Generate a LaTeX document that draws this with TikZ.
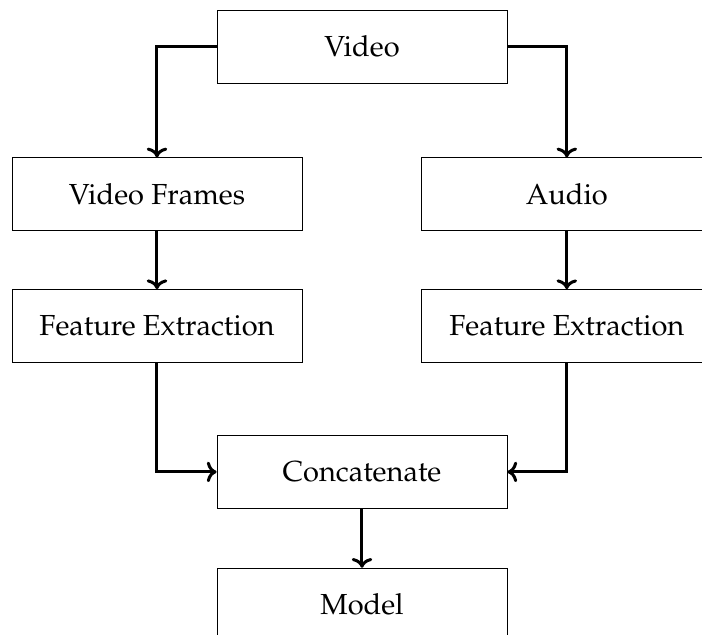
\documentclass[tikz,border=0pt]{standalone}
\usepackage[T1]{fontenc}
\usepackage{mathpazo}
\usepackage{tikz}
\usetikzlibrary {arrows.meta,
                 positioning}
\tikzset{
        base/.style={draw, align=center, font=\fontsize{14.5}{17}\selectfont},
        proc/.style={base, rectangle, minimum width=145pt, minimum height=36.5pt},
        myarrow/.style={->, line width=1.5pt},
 }

\begin{document}
\begin{tikzpicture}
        % Ausschnitt wie im Original
        \useasboundingbox (-181pt,23.25pt) rectangle (170pt,-294.25pt);
        \clip (-181pt,23.25pt) rectangle (170pt,-294.25pt);

	\node[proc] (video) at (0,0) {Video};
        \node[proc, below = 37pt of video, xshift=-102.5pt] (frames) {Video Frames};
        \node[proc, right = 59.5pt of frames] (audio) {Audio};
        \node[proc, below = 29pt of frames] (featv) {Feature Extraction};
        \node[proc, below = 29pt of audio] (feata) {Feature Extraction};
        \node[proc, below = 36pt of featv, xshift=102.5pt] (concat) {Concatenate};
        \node[proc, below = 29.5pt of concat] (model) {Model};

        \draw[myarrow] (video.west) -| (frames);
        \draw[myarrow] (video.east) -| (audio);
        \draw[myarrow] (frames) -- (featv);
        \draw[myarrow] (audio) -- (feata);
        \draw[myarrow] (featv) |- (concat);
        \draw[myarrow] (feata) |- (concat);
        \draw[myarrow] (concat) -- (model);

\end{tikzpicture}
\end{document}
